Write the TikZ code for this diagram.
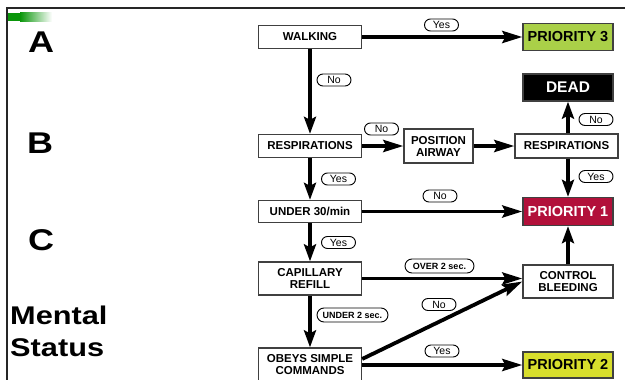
\documentclass[tikz,border=0pt]{standalone}
\usepackage{fontspec}
\setmainfont{Liberation Sans}
\usetikzlibrary{arrows.meta}

\definecolor{boxgray}{RGB}{64,64,64}
\definecolor{prioGreen}{RGB}{170,208,72}
\definecolor{prioRed}{RGB}{178,16,58}
\definecolor{prioYellow}{RGB}{216,222,44}
\definecolor{barGreen}{RGB}{10,150,10}

\begin{document}
\begin{tikzpicture}[x=1pt,y=-1pt,
  box/.style={draw=boxgray, line width=1.3pt, fill=white, align=center,
    inner sep=1pt, font=\bfseries\fontsize{11.5}{12}\selectfont},
  leftbox/.style={box, minimum width=103pt},
  rightbox/.style={box, minimum width=90pt},
  prio/.style={rightbox, font=\bfseries\fontsize{14.5}{15}\selectfont},
  flow/.style={line width=3.8pt, -{Stealth[length=20pt,width=12pt,inset=3pt]}},
  vflow/.style={line width=3.8pt, -{Stealth[length=17pt,width=12pt,inset=3pt]}},
  pill/.style={draw, line width=0.9pt, rounded corners=6pt, fill=white,
    inner sep=1pt, minimum height=12pt, minimum width=34pt,
    font=\fontsize{10.5}{11}\selectfont},
  secpill/.style={pill, minimum height=14pt, rounded corners=7pt,
    font=\bfseries\fontsize{9}{9}\selectfont},
  sidelabel/.style={font=\bfseries\fontsize{30}{30}\selectfont, xscale=1.2}
]
\useasboundingbox (0,0) rectangle (625,380);
\clip (0,0) rectangle (625,380);

% slide frame and corner bar
\draw[line width=2pt, black!85] (6,8) -- (625,8);
\draw[line width=2pt, black!85] (7,8) -- (7,380);
\fill[barGreen] (8,12.5) rectangle (20,21);
\shade[left color=barGreen, right color=white] (20,12.5) rectangle (52,21);

% row headings
\node[sidelabel] (lblA) at (41,42.5) {A};
\node[sidelabel] (lblB) at (40,143) {B};
\node[sidelabel] (lblC) at (41,240) {C};
\node[font=\bfseries\fontsize{25.6}{32}\selectfont, xscale=1.2, align=left,
      anchor=west, inner sep=0pt] (lblM) at (10,331) {Mental\\Status};

% left column
\node[leftbox, minimum height=23pt] (walk)  at (310,37)    {WALKING};
\node[leftbox, minimum height=23pt] (resp)  at (310,146)   {RESPIRATIONS};
\node[leftbox, minimum height=22pt] (under) at (310,211.5) {UNDER 30/min};
\node[leftbox, minimum height=33pt] (cap)   at (310,278.5) {CAPILLARY\\REFILL};
\node[leftbox, minimum height=34pt] (obeys) at (310,365)   {OBEYS SIMPLE\\COMMANDS};

% middle
\node[box, minimum width=69pt, minimum height=34pt] (pa) at (438.5,146) {POSITION\\AIRWAY};

% right column
\node[prio, fill=prioGreen, minimum height=27pt] (p3) at (568,37) {PRIORITY 3};
\node[prio, fill=black, text=white, minimum height=27pt,
      font=\bfseries\fontsize{15.5}{16}\selectfont] (dead) at (568,87.5) {DEAD};
\node[leftbox, minimum height=24pt] (resp2) at (566.5,146) {RESPIRATIONS};
\node[prio, fill=prioRed, text=white, minimum height=28pt] (p1) at (568,211.5) {PRIORITY 1};
\node[rightbox, minimum height=33pt] (cb) at (568,281.5) {CONTROL\\BLEEDING};
\node[prio, fill=prioYellow, minimum height=26pt] (p2) at (568,365) {PRIORITY 2};

% connectors
\draw[flow]  (walk.east) -- (p3.west);
\draw[vflow] (walk.south) -- (resp.north);
\draw[flow]  (resp.east) -- (pa.west);
\draw[flow]  (pa.east) -- (resp2.west);
\draw[vflow] (dead.south |- resp2.north) -- (dead.south);
\draw[vflow] (p1.north |- resp2.south) -- (p1.north);
\draw[vflow] (resp.south) -- (under.north);
\draw[flow]  (under.east) -- (p1.west);
\draw[vflow] (under.south) -- (cap.north);
\draw[flow]  (cap.east) -- (cap.east -| cb.west);
\draw[vflow] (cap.south) -- (obeys.north);
\draw[flow]  ([yshift=6pt]obeys.east) -- (cb.west);
\draw[flow]  (obeys.east) -- (p2.west);
\draw[vflow] (cb.north) -- (p1.south);

% answer tags
\node[pill] (tYes1) at (441.5,25)  {Yes};
\node[pill] (tNo1)  at (334,80)    {No};
\node[pill] (tNo2)  at (381.5,129) {No};
\node[pill] (tNo3)  at (596,119.5) {No};
\node[pill] (tYes2) at (338.5,179) {Yes};
\node[pill] (tYes3) at (596,176.5) {Yes};
\node[pill] (tNo4)  at (440,196)   {No};
\node[pill] (tYes4) at (338.5,242.5) {Yes};
\node[secpill, minimum width=69pt] (tOver)  at (439.5,266) {OVER 2 sec.};
\node[pill] (tNo5)  at (439,304.5) {No};
\node[secpill, minimum width=71pt] (tUnder) at (352.5,315) {UNDER 2 sec.};
\node[pill] (tYes5) at (442,351)   {Yes};
\end{tikzpicture}
\end{document}
